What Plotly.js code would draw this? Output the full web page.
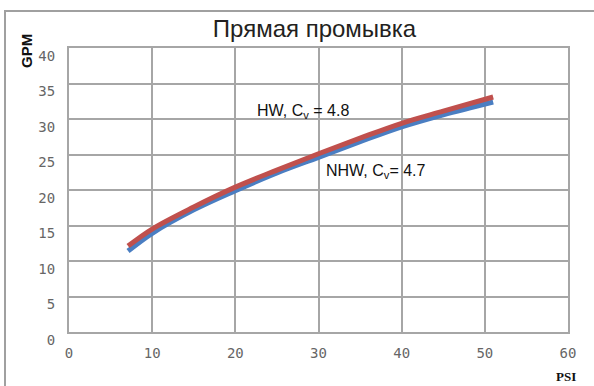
<!DOCTYPE html>
<html>
<head>
<meta charset="utf-8">
<script src="https://cdn.plot.ly/plotly-3.0.1.min.js"></script>
<style>
html,body{margin:0;padding:0;background:#fff;}
#frame{position:absolute;left:4px;top:10px;width:700px;height:500px;border-left:2px solid #a0a0a0;border-top:2px solid #a0a0a0;}
#chart{position:absolute;left:0;top:0;width:594px;height:386px;}
</style>
</head>
<body>
<div id="frame"></div>
<div id="chart"></div>
<script>
const psi = [7.1, 10, 15, 20, 25, 30, 35, 40, 45, 51];
const hwGpm = [12.1, 14.5, 17.6, 20.4, 22.8, 25.1, 27.3, 29.4, 31.1, 33.1];
const nhwGpm = [11.4, 13.9, 17.2, 19.9, 22.4, 24.6, 26.8, 28.9, 30.6, 32.4];
const xTicks = [0, 10, 20, 30, 40, 50, 60];
const yTicks = [0, 5, 10, 15, 20, 25, 30, 35, 40];
const titleText = 'Прямая промывка';
const hwLabel = 'HW, C<sub>v</sub> = 4.8';
const nhwLabel = 'NHW, C<sub>v</sub>= 4.7';

const traces = [
  {x: psi, y: nhwGpm, type: 'scatter', mode: 'lines', name: 'NHW',
   line: {color: '#4a7ec2', width: 5, shape: 'spline'}},
  {x: psi, y: hwGpm, type: 'scatter', mode: 'lines', name: 'HW',
   line: {color: '#c0504d', width: 5, shape: 'spline'}}
];

const axisCommon = {
  showgrid: true, gridcolor: '#a6a6a6', gridwidth: 2,
  showline: true, linecolor: '#a6a6a6', linewidth: 2, mirror: true,
  zeroline: false, ticks: '',
  tickfont: {family: 'DejaVu Sans Mono', size: 14, color: '#666666'}
};

const layout = {
  width: 594, height: 386,
  paper_bgcolor: 'rgba(0,0,0,0)', plot_bgcolor: '#ffffff',
  margin: {l: 69, r: 26, t: 48, b: 54},
  showlegend: false,
  title: {text: titleText, font: {family: 'Liberation Sans, Arial', size: 24, color: '#231f20'},
          x: 0.5295, xref: 'container', xanchor: 'center', y: 0.925, yref: 'container', yanchor: 'middle'},
  xaxis: Object.assign({}, axisCommon, {range: [0, 60], tickvals: xTicks, ticktext: xTicks.map(String),
          ticklabelstandoff: 7}),
  yaxis: Object.assign({}, axisCommon, {range: [0, 40], tickvals: yTicks, ticktext: yTicks.map(String),
          ticklabelstandoff: 9, ticklabelshift: 8}),
  annotations: [
    {text: hwLabel, x: 22.35, y: 31.0, xref: 'x', yref: 'y', xanchor: 'left', yanchor: 'middle',
     showarrow: false, font: {family: 'Liberation Sans, Arial', size: 16, color: '#111'}},
    {text: nhwLabel, x: 30.65, y: 22.6, xref: 'x', yref: 'y', xanchor: 'left', yanchor: 'middle',
     showarrow: false, font: {family: 'Liberation Sans, Arial', size: 16, color: '#111'}},
    {text: '<b>GPM</b>', x: 27, y: 51, xref: 'paper', yref: 'paper', showarrow: false,
     xanchor: 'center', yanchor: 'middle',
     textangle: -90, font: {family: 'Liberation Sans, Arial', size: 15, color: '#111'}},
    {text: '<b>PSI</b>', x: 566, y: 376, showarrow: false, xanchor: 'center', yanchor: 'middle',
     font: {family: 'Liberation Serif, Times New Roman', size: 13, color: '#111'}}
  ]
};
// convert pixel-placed labels into paper coords
const pw = 594 - 69 - 26, ph = 386 - 48 - 54;
layout.annotations[2].x = (27 - 69) / pw; layout.annotations[2].y = (332 - 51) / ph;
layout.annotations[3].xref = 'paper'; layout.annotations[3].yref = 'paper';
layout.annotations[3].x = (566 - 69) / pw; layout.annotations[3].y = (332 - 376) / ph;

Plotly.newPlot('chart', traces, layout, {displayModeBar: false, staticPlot: true});
</script>
</body>
</html>
